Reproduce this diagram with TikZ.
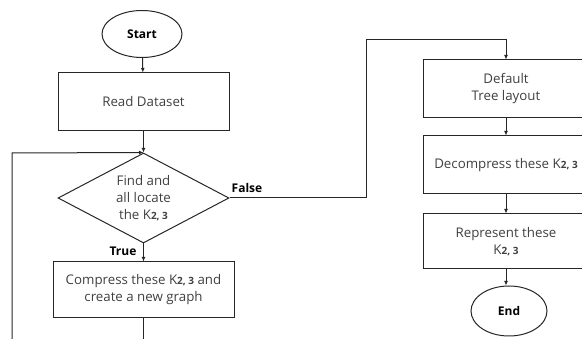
\documentclass[tikz,border=0pt]{standalone}
\usepackage{fontspec}
\setmainfont{Open Sans}
\usetikzlibrary{shapes.geometric,arrows.meta}
\newcommand{\Kt}{K{\fontsize{10}{10}\selectfont\bfseries 2, 3}}
\tikzset{
  line/.style={draw=black!85, line width=1pt},
  arr/.style={line, -{Latex[length=4.5pt,width=4pt]}},
  box/.style={line, rectangle, align=center, text=black!75, font=\fontsize{13.3}{17}\selectfont, inner sep=0pt},
  term/.style={line, ellipse, font=\fontsize{12}{14}\selectfont\bfseries, text=black, inner sep=0pt},
  dec/.style={line, diamond, shape aspect=2, inner sep=0pt, align=center, text=black!75, font=\fontsize{13.3}{17}\selectfont},
  lbl/.style={font=\fontsize{12}{14}\selectfont\bfseries, text=black, inner sep=0pt}
}
\begin{document}
\begin{tikzpicture}[x=1pt,y=-1pt]
\useasboundingbox (0,0) rectangle (582,339);
\clip (0,0) rectangle (582,339);
\node[term, minimum width=80pt, minimum height=47pt] (start) at (142,34) {Start};
\node[box, minimum width=171pt, minimum height=58pt] (read) at (143.5,102) {Read Dataset};
\node[dec, minimum width=171pt, minimum height=90pt] (find) at (143.5,198) {Find and\\all locate\\the \Kt};
\node[box, minimum width=181pt, minimum height=56pt] (comp) at (143.5,290) {Compress these \Kt{} and\\create a new graph};
\node[box, minimum width=166pt, minimum height=58pt] (deft) at (506,89) {Default\\Tree layout};
\node[box, minimum width=166pt, minimum height=58pt] (decp) at (506,165) {Decompress these \Kt};
\node[box, minimum width=166pt, minimum height=55pt] (rep) at (506,241.5) {Represent these\\\Kt};
\node[term, minimum width=76pt, minimum height=50pt] (end) at (509,311) {End};
\node[lbl] (false) at (247,188) {False};
\node[lbl] (true) at (123,251) {True};
\coordinate (f1) at (366,40);
\coordinate (lb) at (12,345);
\coordinate (lt) at (12,153);
\draw[arr] (start) -- (read);
\draw[arr] (read) -- (find.north);
\draw[arr] (find.south) -- (comp.north);
\draw[arr] (find.east) -| (f1) -| (deft.north);
\draw[arr] (deft) -- (decp);
\draw[arr] (decp) -- (rep);
\draw[arr] (rep.south) -- (rep.south |- end.north);
\draw[arr] (lb) -- (lt) -- (find.north);
\draw[line] (comp.south) -- (comp.south |- lb);
\end{tikzpicture}
\end{document}
